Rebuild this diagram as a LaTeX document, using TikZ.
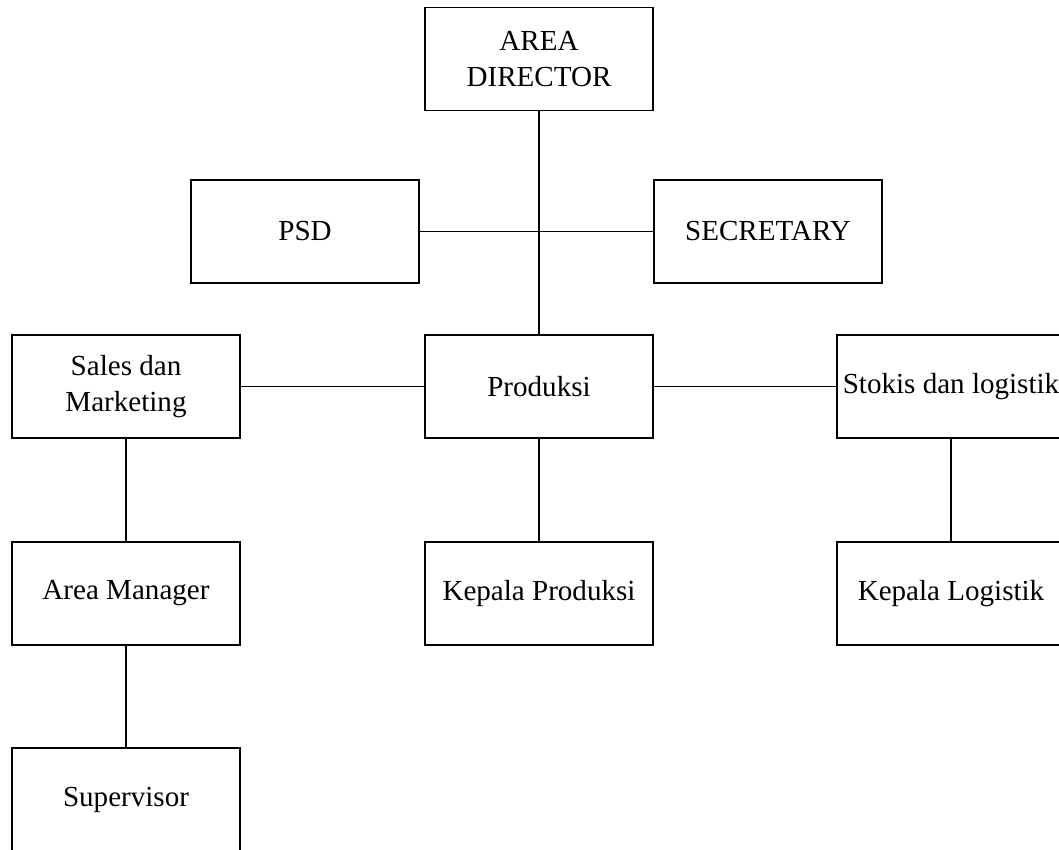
\documentclass[tikz,border=0pt]{standalone}
\usepackage{fontspec}
\setmainfont{Liberation Serif}
\usepackage{tikz}

\tikzset{
  orgbox/.style={draw, line width=0.9pt, minimum width=171pt, minimum height=77.25pt,
    inner sep=0pt, align=center, font=\fontsize{21.8}{27}\selectfont},
  orgline/.style={line width=1.1pt}
}

\begin{document}
\begin{tikzpicture}[x=0.75pt,y=0.75pt,yscale=-1,xscale=1]
%set diagram to 1059 x 849
\useasboundingbox (0,0) rectangle (1059,849);
\clip (0,0) rectangle (1059,849);

%Top
\node[orgbox] (director) at (539,59) {AREA\\DIRECTOR};
\node[orgbox] (psd) at (305,231.5) {PSD};
\node[orgbox] (secretary) at (768,231.5) {SECRETARY};

%Middle row
\node[orgbox] (sales) at (126,386.5) {Sales dan\\Marketing};
\node[orgbox] (produksi) at (539,386.5) {Produksi};
\node[orgbox] (stokis) at (951,386.5) {Stokis dan logistik};

%Lower rows
\node[orgbox] (areamgr) at (126,593.5) {Area Manager};
\node[orgbox] (kprod) at (539,593.5) {Kepala Produksi};
\node[orgbox] (klog) at (951,593.5) {Kepala Logistik};
\node[orgbox] (supervisor) at (126,799.5) {Supervisor};

%Connectors
\draw[orgline] (director.south) -- (produksi.north);
\draw[orgline] (psd.east) -- (secretary.west);
\draw[orgline] (sales.east) -- (produksi.west);
\draw[orgline] (produksi.east) -- (stokis.west);
\draw[orgline] (sales.south) -- (areamgr.north);
\draw[orgline] (areamgr.south) -- (supervisor.north);
\draw[orgline] (produksi.south) -- (kprod.north);
\draw[orgline] (stokis.south) -- (klog.north);

\end{tikzpicture}
\end{document}
